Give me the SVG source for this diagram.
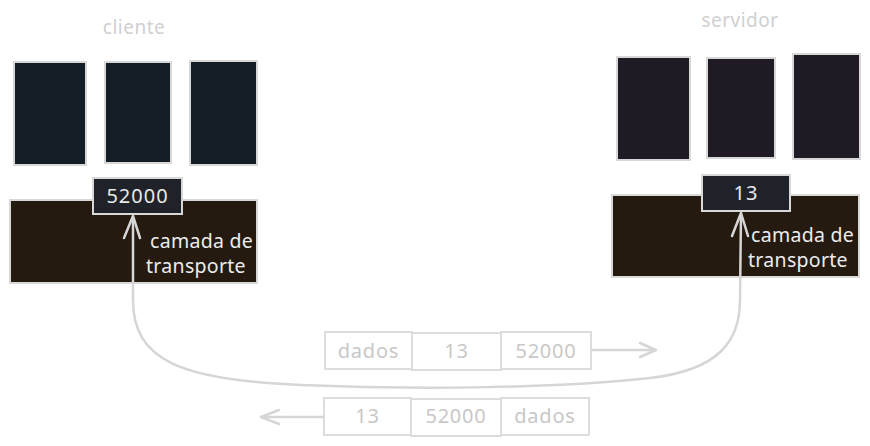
<svg xmlns="http://www.w3.org/2000/svg" width="870" height="446" viewBox="0 0 870 446">
<style>
.t{font-family:"Noto Sans","DejaVu Sans",sans-serif;}
.title{font-size:19px;fill:#d0d0d0;letter-spacing:0.5px;}
.cbox{fill:#131d26;stroke:#d8d8d8;stroke-width:2;}
.sbox{fill:#1f1a24;stroke:#d8d8d8;stroke-width:2;}
.layer{fill:#251a10;stroke:#d8d8d8;stroke-width:2;}
.port{fill:#1f2329;stroke:#d8d8d8;stroke-width:2;}
.porttxt{font-size:20px;fill:#e8e8e8;letter-spacing:1px;}
.lbl{font-size:19.5px;fill:#ececec;letter-spacing:0.3px;}
.pkt{fill:none;stroke:#dddddd;stroke-width:2;}
.pkttxt{font-size:20px;fill:#c8c8c8;letter-spacing:0.8px;}
.conn{fill:none;stroke:#d6d6d6;stroke-width:2.5;stroke-linecap:round;stroke-linejoin:round;}
</style>
<rect width="870" height="446" fill="#ffffff"/>
<g id="cliente">
  <text class="t title" x="134" y="34" text-anchor="middle">cliente</text>
  <rect class="cbox" x="14" y="62" width="72" height="103"/>
  <rect class="cbox" x="105" y="62" width="66" height="101"/>
  <rect class="cbox" x="190" y="61" width="67" height="104"/>
</g>
<g id="cliente-transporte">
  <rect class="layer" x="10" y="200" width="247" height="83"/>
  <text class="t lbl" x="150" y="248">camada de</text>
  <text class="t lbl" x="146" y="273">transporte</text>
</g>
<g id="porta-cliente">
  <rect class="port" x="93" y="178" width="89" height="36"/>
  <text class="t porttxt" x="137.5" y="203" text-anchor="middle">52000</text>
</g>
<g id="servidor">
  <text class="t title" x="740" y="27" text-anchor="middle">servidor</text>
  <rect class="sbox" x="617" y="57" width="73" height="103"/>
  <rect class="sbox" x="707" y="58" width="68" height="100"/>
  <rect class="sbox" x="793" y="54" width="67" height="105"/>
</g>
<g id="servidor-transporte">
  <rect class="layer" x="612" y="195" width="247" height="82"/>
  <text class="t lbl" x="751" y="242">camada de</text>
  <text class="t lbl" x="748" y="267">transporte</text>
</g>
<g id="porta-servidor">
  <rect class="port" x="702" y="175" width="88" height="36"/>
  <text class="t porttxt" x="746" y="200" text-anchor="middle">13</text>
</g>
<g id="pacote-ida">
  <rect class="pkt" x="325" y="332" width="87" height="37"/>
  <rect class="pkt" x="412" y="333" width="89" height="37"/>
  <rect class="pkt" x="501" y="332" width="90" height="37"/>
  <text class="t pkttxt" x="368.5" y="358" text-anchor="middle">dados</text>
  <text class="t pkttxt" x="456.5" y="358" text-anchor="middle">13</text>
  <text class="t pkttxt" x="546" y="358" text-anchor="middle">52000</text>
</g>
<g id="pacote-volta">
  <rect class="pkt" x="324" y="398" width="87" height="37"/>
  <rect class="pkt" x="411" y="399" width="90" height="37"/>
  <rect class="pkt" x="501" y="398" width="88" height="37"/>
  <text class="t pkttxt" x="367.5" y="423" text-anchor="middle">13</text>
  <text class="t pkttxt" x="456" y="423" text-anchor="middle">52000</text>
  <text class="t pkttxt" x="545" y="423" text-anchor="middle">dados</text>
</g>
<g id="conectores">
  <path class="conn" d="M133 218 L133 300 C133 360 180 380 300 385 C420 390 560 388 650 378 C720 370 740 340 740 300 L741 214"/>
  <path class="conn" d="M124 238 L133 216 L140 238"/>
  <path class="conn" d="M732 236 L741 213 L748 236"/>
  <path class="conn" d="M592 350 L655 350 M640 343 L656 350 L640 357"/>
  <path class="conn" d="M323 417 L262 417 M279 410 L261 417 L279 424"/>
</g>
</svg>
